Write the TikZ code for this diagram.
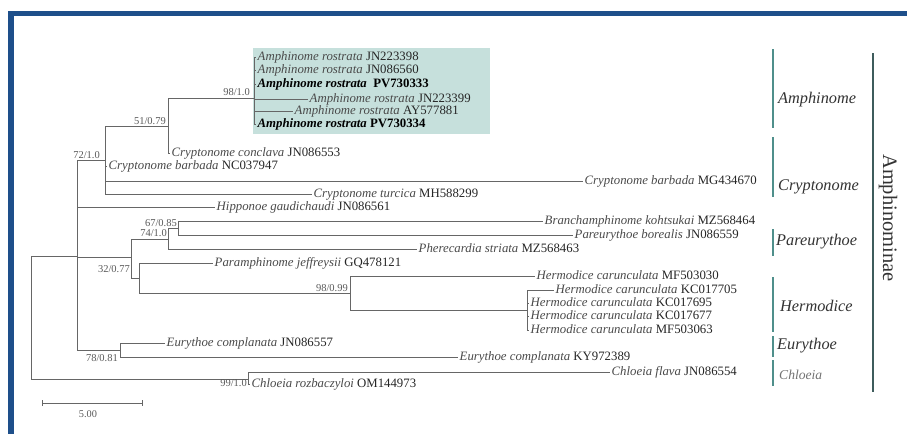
\documentclass[tikz,border=0pt]{standalone}
\usepackage{fontspec}
\setmainfont{Liberation Serif}
\usepackage{tikz}
\usetikzlibrary{arrows.meta}
\definecolor{frameblue}{HTML}{1E4F8A}
\definecolor{cladeteal}{HTML}{4F8F8B}
\definecolor{subfamgrey}{HTML}{3E5C5C}
\definecolor{boxteal}{HTML}{C6E0DC}
\definecolor{branchgrey}{HTML}{666666}
\definecolor{taxongrey}{HTML}{4A4A4A}
\newcommand{\taxon}[2]{\textcolor{taxongrey}{\textit{#1}} #2}

\begin{document}
\begin{tikzpicture}[
    x=1pt, y=-1pt,
    tip/.style={anchor=west, inner sep=1.5pt, text height=8.5pt, text depth=2.5pt, font=\fontsize{12.8}{14}\selectfont, text=black!85},
    boot/.style={anchor=east, inner sep=0pt, font=\fontsize{10.5}{12}\selectfont, text=black!65},
    branch/.style={draw=branchgrey, line width=0.9pt},
    cladebar/.style={draw=cladeteal, line width=2pt},
    cladename/.style={anchor=west, inner sep=0pt, font=\fontsize{16.3}{18}\selectfont\itshape, text=black!80}
]
    \fill[white] (0,0) rectangle (907,434);
    \useasboundingbox (0,0) rectangle (907,434);
    % frame
    \fill[frameblue] (8,11) rectangle (907,16);
    \fill[frameblue] (8,11) rectangle (14,434);
    % highlighted new sequences
    \fill[boxteal] (253,48) rectangle (490,134);

    % internal nodes
    \coordinate (root) at (31,317);
    \coordinate (nIn) at (77,256);
    \coordinate (nAC) at (105,160);
    \coordinate (nAmCc) at (168,126);
    \coordinate (nAm) at (254,98);
    \coordinate (nPar) at (131,257);
    \coordinate (nBP) at (168,239);
    \coordinate (nBr) at (178,228);
    \coordinate (nPh) at (139,278);
    \coordinate (nHe) at (350,293);
    \coordinate (nHk) at (527,310);
    \coordinate (nEu) at (120,350);
    \coordinate (nCh) at (248,379);

    % tips
    \node[tip] (ar1) at (256,57) {\taxon{Amphinome rostrata}{JN223398}};
    \node[tip] (ar2) at (256,70) {\taxon{Amphinome rostrata}{JN086560}};
    \node[tip, text=black] (ar3) at (256,84) {\textbf{\textit{Amphinome rostrata}}~~\textbf{PV730333}};
    \node[tip] (ar4) at (308,99) {\taxon{Amphinome rostrata}{JN223399}};
    \node[tip] (ar5) at (293,111) {\taxon{Amphinome rostrata}{AY577881}};
    \node[tip, text=black] (ar6) at (256,124) {\textbf{\textit{Amphinome rostrata}} \textbf{PV730334}};
    \node[tip] (ccon) at (170,153) {\taxon{Cryptonome conclava}{JN086553}};
    \node[tip] (cbNC) at (107,166) {\taxon{Cryptonome barbada}{NC037947}};
    \node[tip] (cbMG) at (583,181) {\taxon{Cryptonome barbada}{MG434670}};
    \node[tip] (ctu) at (312,194) {\taxon{Cryptonome turcica}{MH588299}};
    \node[tip] (hip) at (215,207) {\taxon{Hipponoe gaudichaudi}{JN086561}};
    \node[tip] (bra) at (543,221) {\taxon{Branchamphinome kohtsukai}{MZ568464}};
    \node[tip] (par) at (573,235) {\taxon{Pareurythoe borealis}{JN086559}};
    \node[tip] (phe) at (417,249) {\taxon{Pherecardia striata}{MZ568463}};
    \node[tip] (pam) at (213,263) {\taxon{Paramphinome jeffreysii}{GQ478121}};
    \node[tip] (hc1) at (535,276) {\taxon{Hermodice carunculata}{MF503030}};
    \node[tip] (hc2) at (554,290) {\taxon{Hermodice carunculata}{KC017705}};
    \node[tip] (hc3) at (529,303) {\taxon{Hermodice carunculata}{KC017695}};
    \node[tip] (hc4) at (529,316) {\taxon{Hermodice carunculata}{KC017677}};
    \node[tip] (hc5) at (529,330) {\taxon{Hermodice carunculata}MF503063};
    \node[tip] (eu1) at (165,343) {\taxon{Eurythoe complanata}{JN086557}};
    \node[tip] (eu2) at (458,357) {\taxon{Eurythoe complanata}{KY972389}};
    \node[tip] (cfl) at (610,372) {\taxon{Chloeia flava}{JN086554}};
    \node[tip] (croz) at (250,384) {\taxon{Chloeia rozbaczyloi}{OM144973}};

    % branches
    \draw[branch] (root) |- (nIn) (root) |- (nCh);
    \draw[branch] (nIn) |- (nAC) (nIn) |- (hip.west) (nIn) |- (nPar) (nIn) |- (nEu);
    \draw[branch] (nAC) |- (nAmCc) (nAC) |- (cbNC.west) (nAC) |- (cbMG.west) (nAC) |- (ctu.west);
    \draw[branch] (nAmCc) |- (nAm) (nAmCc) |- (ccon.west);
    \draw[branch] (nAm) |- (ar1.west) (nAm) |- (ar2.west) (nAm) |- (ar3.west)
        (nAm) |- (ar4.west) (nAm) |- (ar5.west) (nAm) |- (ar6.west);
    \draw[branch] (nPar) |- (nBP) (nPar) |- (nPh);
    \draw[branch] (nBP) |- (nBr) (nBP) |- (phe.west);
    \draw[branch] (nBr) |- (bra.west) (nBr) |- (par.west);
    \draw[branch] (nPh) |- (pam.west) (nPh) |- (nHe);
    \draw[branch] (nHe) |- (hc1.west) (nHe) |- (nHk);
    \draw[branch] (nHk) |- (hc2.west) (nHk) |- (hc3.west) (nHk) |- (hc4.west) (nHk) |- (hc5.west);
    \draw[branch] (nEu) |- (eu1.west) (nEu) |- (eu2.west);
    \draw[branch] (nCh) |- (cfl.west) (nCh) |- (croz.west);

    % support values
    \node[boot] (bAm) at (250,92) {98/1.0};
    \node[boot] (bAmCc) at (166,121) {51/0.79};
    \node[boot] (bAC) at (100,155) {72/1.0};
    \node[boot] (bBr) at (177,223) {67/0.85};
    \node[boot] (bBP) at (167,233) {74/1.0};
    \node[boot] (bPar) at (130,269) {32/0.77};
    \node[boot] (bHe) at (348,288) {98/0.99};
    \node[boot] (bEu) at (118,358) {78/0.81};
    \node[boot] (bCh) at (247,383) {99/1.0};

    % clades
    \draw[cladebar] (773,49) -- (773,128);
    \draw[cladebar] (773,137) -- (773,197);
    \draw[cladebar] (773,229) -- (773,256);
    \draw[cladebar] (773,277) -- (773,332);
    \draw[cladebar] (773,336) -- (773,357);
    \draw[cladebar] (773,360) -- (773,386);
    \node[cladename] (cAm) at (778,100) {Amphinome};
    \node[cladename] (cCr) at (778,187) {Cryptonome};
    \node[cladename] (cPa) at (776,242) {Pareurythoe};
    \node[cladename] (cHe) at (780,306) {Hermodice};
    \node[cladename] (cEu) at (777,346) {Eurythoe};
    \node[cladename, font=\fontsize{13.6}{15}\selectfont\itshape, text=black!55] (cCh) at (779,375) {Chloeia};
    \draw[subfamgrey, line width=2.5pt] (873,53) -- (873,392);
    \node[rotate=-90, font=\fontsize{20.5}{22}\selectfont, text=black!80] (subfam) at (888,218) {Amphinominae};

    % scale
    \coordinate (sbL) at (42,403);
    \coordinate (sbR) at (143,403);
    \draw[branchgrey, line width=0.8pt, {Bar[width=6pt]}-{Bar[width=6pt]}] (sbL) -- (sbR);
    \node[font=\fontsize{10.3}{12}\selectfont, text=black!65] (sbText) at (88,414) {5.00};
\end{tikzpicture}
\end{document}
